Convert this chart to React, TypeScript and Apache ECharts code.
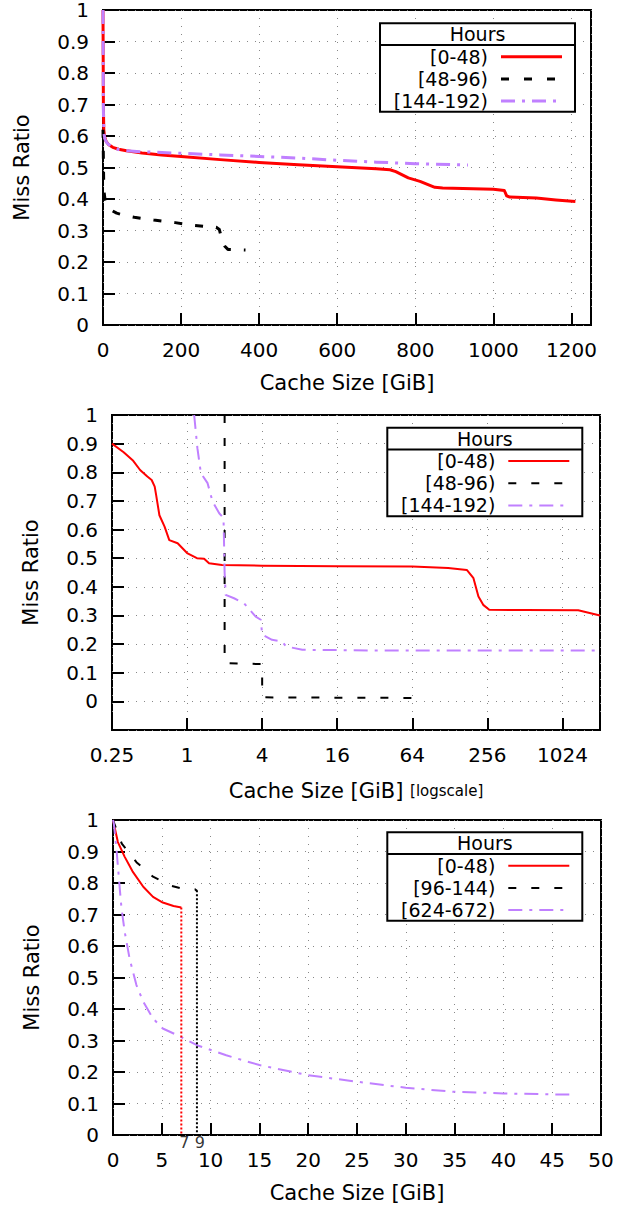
import React, { useEffect, useRef } from 'react';
import * as echarts from 'echarts';

const FONT = 'DejaVu Sans';
const RED = '#ff0000';
const BLACK = '#000000';
const PURPLE = '#c080ff';

// ---------- Panel 1 (linear, GiB) ----------
const p1Labels = ['[0-48)', '[48-96)', '[144-192)'];
const p1Red = [[0, 1.0], [1, 0.7], [2, 0.62], [4, 0.598], [8, 0.583], [15, 0.572], [25, 0.564], [40, 0.558], [60, 0.553], [100, 0.546], [150, 0.54], [200, 0.535], [300, 0.525], [400, 0.516], [500, 0.509], [600, 0.502], [700, 0.496], [735, 0.493], [750, 0.487], [782, 0.467], [812, 0.456], [850, 0.437], [870, 0.435], [1000, 0.431], [1028, 0.427], [1034, 0.41], [1042, 0.406], [1110, 0.403], [1160, 0.397], [1210, 0.392]];
const p1Black = [[0, 0.62], [2, 0.43], [5, 0.40], [12, 0.378], [22, 0.364], [35, 0.355], [55, 0.348], [80, 0.342], [130, 0.333], [185, 0.325], [235, 0.316], [290, 0.31], [298, 0.303], [305, 0.27], [312, 0.25], [320, 0.24], [365, 0.238]];
const p1Purple = [[0, 1.0], [1, 0.68], [2, 0.61], [5, 0.59], [10, 0.578], [20, 0.567], [40, 0.557], [60, 0.553], [100, 0.55], [200, 0.545], [300, 0.54], [400, 0.535], [500, 0.53], [600, 0.523], [700, 0.517], [800, 0.512], [935, 0.508]];

// ---------- Panel 2 (log2 x) ----------
const p2Labels = ['[0-48)', '[48-96)', '[144-192)'];
const p2Red = [[0.25, 0.9], [0.31, 0.87], [0.37, 0.84], [0.42, 0.808], [0.48, 0.785], [0.52, 0.773], [0.55, 0.75], [0.565, 0.72], [0.6, 0.65], [0.66, 0.61], [0.72, 0.563], [0.84, 0.552], [1.0, 0.518], [1.2, 0.5], [1.37, 0.498], [1.5, 0.482], [1.9, 0.476], [4, 0.474], [16, 0.472], [64, 0.471], [124, 0.466], [175, 0.459], [198, 0.43], [217, 0.366], [237, 0.337], [265, 0.32], [512, 0.319], [1370, 0.318], [2048, 0.3]];
const p2Black = [[2, 1.0], [2, 0.134], [4, 0.13], [4, 0.014], [64, 0.012]];
const p2Purple = [[1.14, 1.0], [1.21, 0.884], [1.29, 0.797], [1.46, 0.762], [1.6, 0.698], [1.81, 0.657], [1.96, 0.64], [1.98, 0.547], [2.0, 0.45], [2.04, 0.372], [2.38, 0.36], [2.86, 0.343], [3.55, 0.296], [3.9, 0.285], [4.0, 0.233], [4.8, 0.215], [5.8, 0.209], [6.2, 0.192], [8.4, 0.18], [28, 0.178], [2000, 0.178]];

// ---------- Panel 3 (linear, GiB) ----------
const p3Labels = ['[0-48)', '[96-144)', '[624-672)'];
const p3Red = [[0, 1.0], [0.5, 0.93], [1.2, 0.883], [2, 0.837], [3.1, 0.788], [4.1, 0.756], [5.1, 0.738], [6.2, 0.727], [7, 0.722]];
const p3Black = [[0, 1.0], [0.9, 0.925], [2.4, 0.866], [4.1, 0.82], [6, 0.791], [7, 0.783], [8.4, 0.78], [8.6, 0.775]];
const p3Purple = [[0, 1.0], [0.08, 0.99], [0.35, 0.91], [0.7, 0.78], [0.87, 0.72], [1.2, 0.645], [1.7, 0.56], [2.4, 0.476], [3.1, 0.423], [4.1, 0.37], [5.1, 0.338], [7, 0.311], [8.6, 0.285], [11.6, 0.253], [15, 0.222], [20, 0.19], [25, 0.169], [30, 0.15], [35, 0.137], [40, 0.132], [45, 0.129], [47.4, 0.128]];
const p3Cut = [7, 8.6];
const p3CutTop = [0.722, 0.777];
const p3CutLabels = ['7', '9'];

const DASH = [8, 15];
const DASH1 = [8, 13];
const DASHDOT = [14, 7, 3, 7];

function axisBase() {
  return {
    axisLine: { show: false, onZero: false },
    axisTick: { show: true, inside: true, length: 12, lineStyle: { color: '#000', width: 2 } },
    axisLabel: { color: '#000', fontSize: 20, fontFamily: FONT, interval: 0, margin: 14, lineHeight: 18 },
    splitLine: { show: true, lineStyle: { color: '#888', width: 1, type: [1, 7] } },
    nameTextStyle: { color: '#000', fontSize: 21, fontFamily: FONT },
    nameLocation: 'middle' as const,
  };
}

function legend(x: number, y: number, labels: string[], lw: number) {
  const w = 195;
  const h = 88.5;
  const font = `19px "${FONT}"`;
  const els: any[] = [
    { type: 'rect', z: 100, shape: { x, y, width: w, height: h }, style: { fill: '#fff', stroke: '#000', lineWidth: 2 } },
    { type: 'line', z: 101, shape: { x1: x, y1: y + 21.8, x2: x + w, y2: y + 21.8 }, style: { stroke: '#000', lineWidth: 2 } },
    { type: 'text', z: 101, x: x + w / 2, y: y + 11, style: { text: 'Hours', font, fill: '#000', align: 'center', verticalAlign: 'middle' } },
  ];
  const rows = [33.4, 55.6, 77.7];
  const styles = [
    { stroke: RED, lineDash: null },
    { stroke: BLACK, lineDash: DASH },
    { stroke: PURPLE, lineDash: DASHDOT },
  ];
  labels.forEach((lab, i) => {
    els.push({ type: 'text', z: 101, x: x + 108, y: y + rows[i], style: { text: lab, font, fill: '#000', align: 'right', verticalAlign: 'middle' } });
    els.push({ type: 'line', z: 101, shape: { x1: x + 121, y1: y + rows[i], x2: x + 182, y2: y + rows[i] }, style: { stroke: styles[i].stroke, lineWidth: lw, lineDash: styles[i].lineDash, lineCap: 'butt' } });
  });
  return els;
}

function lineSeries(xi: number, data: number[][], color: string, width: number, type: any) {
  return {
    type: 'line',
    xAxisIndex: xi,
    yAxisIndex: xi,
    data,
    symbol: 'none',
    silent: true,
    lineStyle: { color, width, type, cap: 'butt', join: 'round' },
  };
}

export default function App() {
  const ref = useRef<HTMLDivElement>(null);
  useEffect(() => {
    const chart = echarts.init(ref.current!, null, { renderer: 'svg' });
    const b = axisBase;
    const fmt1 = (v: number) => (String(Math.round(v * 10) / 10));
    const option: any = {
      animation: false,
      backgroundColor: '#fff',
      textStyle: { fontFamily: FONT },
      grid: [
        { left: 103, top: 10, width: 488, height: 315, show: true, borderColor: '#000', borderWidth: 2 },
        { left: 112, top: 415, width: 488, height: 315, show: true, borderColor: '#000', borderWidth: 2 },
        { left: 113, top: 820, width: 488, height: 315, show: true, borderColor: '#000', borderWidth: 2 },
      ],
      xAxis: [
        {
          ...b(), gridIndex: 0, type: 'value', min: 0, max: 1250, interval: 200,
          name: 'Cache Size [GiB]', nameGap: 47,
          axisLabel: { ...b().axisLabel, margin: 16, formatter: (v: number) => (v % 200 === 0 ? String(v) : '') },
        },
        {
          ...b(), gridIndex: 1, type: 'log', logBase: 4, min: 0.25, max: 2048,
          name: 'Cache Size [GiB] {s|[logscale]}', nameGap: 50,
          nameTextStyle: { color: '#000', fontSize: 21, fontFamily: FONT, rich: { s: { fontSize: 15, color: '#000', fontFamily: FONT } } },
          axisLabel: {
            ...b().axisLabel, margin: 16,
            formatter: (v: number) => {
              const l = Math.log(v) / Math.log(4);
              return Math.abs(l - Math.round(l)) < 1e-6 ? String(+v.toPrecision(6)) : '';
            },
          },
        },
        {
          ...b(), gridIndex: 2, type: 'value', min: 0, max: 50, interval: 5,
          name: 'Cache Size [GiB]', nameGap: 47,
          axisLabel: { ...b().axisLabel, margin: 16 },
        },
      ],
      yAxis: [
        { ...b(), gridIndex: 0, type: 'value', min: 0, max: 1, interval: 0.1, name: 'Miss Ratio', nameGap: 71, axisLabel: { ...b().axisLabel, formatter: fmt1 } },
        {
          ...b(), gridIndex: 1, type: 'value', min: -0.1, max: 1, interval: 0.1, name: 'Miss Ratio', nameGap: 71,
          axisLabel: { ...b().axisLabel, formatter: (v: number) => (v < -0.01 ? '' : fmt1(v)) },
        },
        { ...b(), gridIndex: 2, type: 'value', min: 0, max: 1, interval: 0.1, name: 'Miss Ratio', nameGap: 71, axisLabel: { ...b().axisLabel, formatter: fmt1 } },
      ],
      series: [
        lineSeries(0, p1Red, RED, 3, 'solid'),
        lineSeries(0, p1Black, BLACK, 3, DASH1),
        lineSeries(0, p1Purple, PURPLE, 3, DASHDOT),
        lineSeries(1, p2Red, RED, 2, 'solid'),
        lineSeries(1, p2Black, BLACK, 2, DASH),
        lineSeries(1, p2Purple, PURPLE, 2, DASHDOT),
        lineSeries(2, p3Red, RED, 2, 'solid'),
        lineSeries(2, p3Black, BLACK, 2, DASH),
        lineSeries(2, p3Purple, PURPLE, 2, DASHDOT),
        lineSeries(2, [[p3Cut[0], p3CutTop[0]], [p3Cut[0], 0]], RED, 2, [2, 2]),
        lineSeries(2, [[p3Cut[1], p3CutTop[1]], [p3Cut[1], 0]], BLACK, 2, [2, 2]),
        {
          type: 'scatter', xAxisIndex: 2, yAxisIndex: 2, silent: true,
          symbol: 'circle', symbolSize: 1,
          itemStyle: { color: 'rgba(0,0,0,0)' },
          data: p3Cut.map((c, i) => ({
            value: [c, 0],
            label: { show: true, formatter: p3CutLabels[i], position: 'bottom', distance: 1, offset: [i === 0 ? 3 : 3, 0], color: '#000', fontSize: 16, lineHeight: 12, fontFamily: FONT },
          })),
        },
      ],
      graphic: [
        ...legend(380, 23.3, p1Labels, 3),
        ...legend(387.3, 427.7, p2Labels, 2),
        ...legend(387.3, 832.3, p3Labels, 2),
      ],
    };
    chart.setOption(option);
    return () => chart.dispose();
  }, []);
  return <div ref={ref} style={{ position: 'absolute', left: 0, top: 0, width: 619, height: 1208, background: '#fff' }} />;
}
